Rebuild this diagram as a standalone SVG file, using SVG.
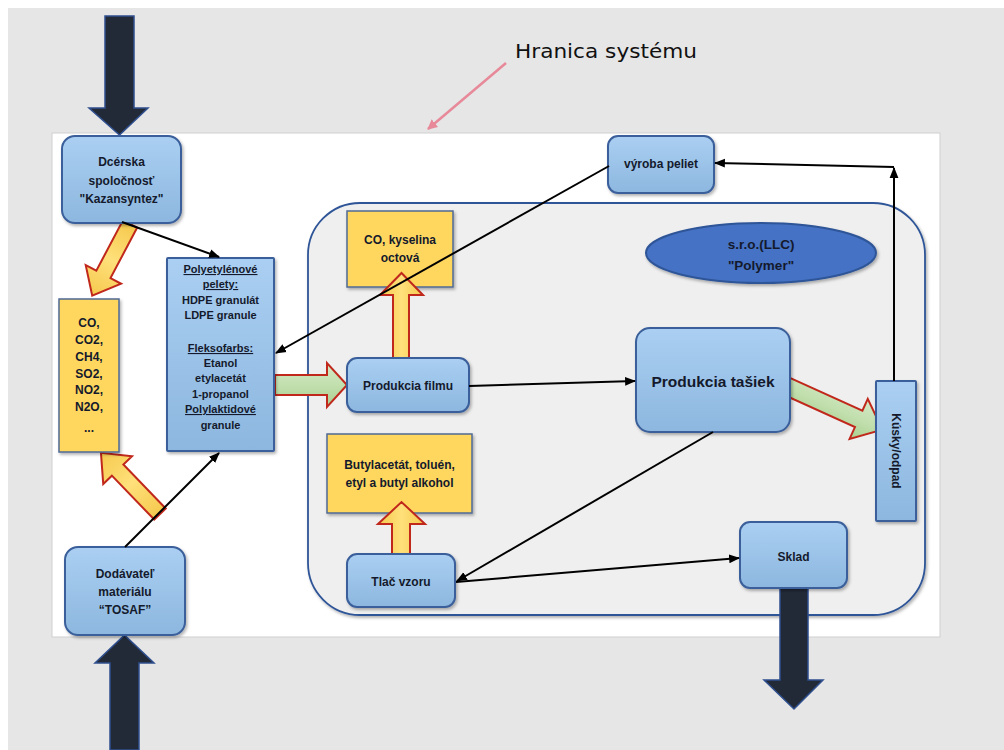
<svg xmlns="http://www.w3.org/2000/svg" width="1004" height="750" viewBox="0 0 1004 750">
<defs>
<linearGradient id="gBlue" x1="0" y1="0" x2="0" y2="1">
<stop offset="0" stop-color="#aacff2"/><stop offset="1" stop-color="#8db7df"/>
</linearGradient>
<linearGradient id="gYel" x1="0" y1="0" x2="1" y2="0">
<stop offset="0" stop-color="#f5c94e"/><stop offset="0.5" stop-color="#ffe07a"/><stop offset="1" stop-color="#f5c94e"/>
</linearGradient>
<linearGradient id="gGreen" x1="0" y1="0" x2="0" y2="1">
<stop offset="0" stop-color="#d4e9c6"/><stop offset="0.5" stop-color="#c2dfae"/><stop offset="1" stop-color="#a9d08f"/>
</linearGradient>
<filter id="sh" x="-10%" y="-10%" width="130%" height="130%">
<feDropShadow dx="1.5" dy="2" stdDeviation="1.5" flood-color="#000" flood-opacity="0.3"/>
</filter>
<marker id="ah" viewBox="0 0 10 10" refX="9" refY="5" markerWidth="5.5" markerHeight="5.5" orient="auto-start-reverse" markerUnits="strokeWidth">
<path d="M0,1 L10,5 L0,9 Z" fill="#000"/>
</marker>
<marker id="ahp" viewBox="0 0 10 10" refX="9" refY="5" markerWidth="4" markerHeight="4" orient="auto" markerUnits="strokeWidth">
<path d="M0,0 L10,5 L0,10 Z" fill="#e8899a"/>
</marker>
</defs>
<style>
.bg{fill:#e6e6e6}
.blue{fill:url(#gBlue);stroke:#3a5f9a;stroke-width:2;filter:url(#sh)}
.yel{fill:#ffd75e;stroke:#4f6a95;stroke-width:1.5;filter:url(#sh)}
.t{font-family:"Liberation Sans",Arial,sans-serif;font-weight:bold;fill:#141a2c;text-anchor:middle}
.s12{font-size:12px}
.s11{font-size:11px}
.ln{stroke:#000;stroke-width:2;fill:none;marker-end:url(#ah)}
.ya{fill:url(#gYel);stroke:#c0281c;stroke-width:2}
.ga{fill:url(#gGreen);stroke:#c0281c;stroke-width:2}
.dark{fill:#222a38;stroke:#2f4f8f;stroke-width:1.5}
</style>

<rect x="0" y="0" width="1004" height="750" fill="#ffffff"/>
<rect class="bg" x="8" y="8" width="996" height="742"/>
<rect x="52" y="133" width="888" height="504" fill="#ffffff" stroke="#cfcfcf" stroke-width="1"/>

<g id="hranica">
<text x="515" y="58" font-family="DejaVu Sans,Verdana,sans-serif" font-size="20" fill="#111" textLength="182" lengthAdjust="spacingAndGlyphs">Hranica systému</text>
<line x1="506" y1="63" x2="428" y2="129" stroke="#e8899a" stroke-width="2.5" marker-end="url(#ahp)"/>
</g>

<g id="container">
<rect x="308" y="203" width="617" height="412" rx="52" ry="52" fill="#efefef" stroke="#2f5597" stroke-width="1.8" filter="url(#sh)"/>
</g>

<g id="dark-arrows">
<path class="dark" d="M105,16 L134,16 L134,108 L148,108 L119.5,135 L89,108 L105,108 Z"/>
<path class="dark" d="M110,750 L110,663 L95,663 L124.5,635 L154,663 L139,663 L139,750 Z"/>
<path class="dark" d="M780,588 L808,588 L808,680 L823,680 L794,709 L764,680 L780,680 Z"/>
</g>

<g id="block-arrows">
<path class="ya" transform="translate(130,224) rotate(117.8)" d="M0,-8 L57,-8 L57,-20 L81,0 L57,20 L57,8 L0,8 Z"/>
<path class="ya" transform="translate(160,514) rotate(-134)" d="M0,-8 L61,-8 L61,-20 L85,0 L61,20 L61,8 L0,8 Z"/>
<path class="ga" d="M275,375 L327,375 L327,363 L347,385 L327,407 L327,395 L275,395 Z"/>
<path class="ga" transform="translate(784,385) rotate(24.4)" d="M0,-9 L82,-9 L82,-22 L108,0 L82,22 L82,9 L0,9 Z"/>
</g>

<g id="dcerska">
<rect class="blue" x="62" y="136" width="119" height="87" rx="13"/>
<text class="t s12" x="121.5" y="166">Dcérska</text>
<text class="t s12" x="121.5" y="185">spoločnosť</text>
<text class="t s12" x="121.5" y="203">"Kazansyntez"</text>
</g>

<g id="emisie">
<rect class="yel" x="59" y="299" width="60" height="153"/>
<text class="t s12" x="89" y="327">CO,</text>
<text class="t s12" x="89" y="344">CO2,</text>
<text class="t s12" x="89" y="361">CH4,</text>
<text class="t s12" x="89" y="378">SO2,</text>
<text class="t s12" x="89" y="394">NO2,</text>
<text class="t s12" x="89" y="411">N2O,</text>
<text class="t s12" x="89" y="432">...</text>
</g>

<g id="polyetylen">
<rect class="blue" x="167" y="258" width="107" height="193" rx="1"/>
<text class="t s11" x="220.5" y="273" text-decoration="underline">Polyetylénové</text>
<text class="t s11" x="220.5" y="288" text-decoration="underline">pelety:</text>
<text class="t s11" x="220.5" y="304">HDPE granulát</text>
<text class="t s11" x="220.5" y="319">LDPE granule</text>
<text class="t s11" x="220.5" y="352" text-decoration="underline">Fleksofarbs:</text>
<text class="t s11" x="220.5" y="367">Etanol</text>
<text class="t s11" x="220.5" y="382">etylacetát</text>
<text class="t s11" x="220.5" y="398">1-propanol</text>
<text class="t s11" x="220.5" y="413" text-decoration="underline">Polylaktidové</text>
<text class="t s11" x="220.5" y="429">granule</text>
</g>

<g id="dodavatel">
<rect class="blue" x="65" y="547" width="120" height="88" rx="13"/>
<text class="t s12" x="125" y="578">Dodávateľ</text>
<text class="t s12" x="125" y="596">materiálu</text>
<text class="t s12" x="125" y="614">“TOSAF”</text>
</g>

<g id="co-octova">
<rect class="yel" x="347" y="211" width="106" height="76"/>
<text class="t s12" x="400" y="244">CO, kyselina</text>
<text class="t s12" x="400" y="262">octová</text>
</g>

<g id="butyl">
<rect class="yel" x="327" y="434" width="145" height="79"/>
<text class="t s12" x="399.5" y="469">Butylacetát, toluén,</text>
<text class="t s12" x="399.5" y="487">etyl a butyl alkohol</text>
</g>

<g id="up-arrows">
<path class="ya" d="M393,358 L393,295 L380,295 L401.5,273 L423,295 L409,295 L409,358 Z"/>
<path class="ya" d="M392,554 L392,524 L378,524 L401.5,502 L425,524 L410,524 L410,554 Z"/>
</g>

<g id="produkcia-filmu">
<rect class="blue" x="347" y="358" width="122" height="54" rx="10"/>
<text class="t s12" x="408" y="390">Produkcia filmu</text>
</g>

<g id="tlac">
<rect class="blue" x="347" y="554" width="108" height="53" rx="10"/>
<text class="t s12" x="401" y="586">Tlač vzoru</text>
</g>

<g id="vyroba-peliet">
<rect class="blue" x="608" y="136" width="106" height="57" rx="10"/>
<text class="t s12" x="661" y="168">výroba peliet</text>
</g>

<g id="polymer">
<ellipse cx="761" cy="253" rx="115" ry="30" fill="#4472c4" stroke="#2f5597" stroke-width="2" filter="url(#sh)"/>
<text class="t" font-size="13.5" x="761" y="249">s.r.o.(LLC)</text>
<text class="t" font-size="13.5" x="761" y="270">"Polymer"</text>
</g>

<g id="produkcia-tasiek">
<rect class="blue" x="636" y="328" width="154" height="104" rx="14"/>
<text class="t" font-size="15.5" x="713" y="387">Produkcia tašiek</text>
</g>

<g id="kusky">
<rect class="blue" x="876" y="381" width="40" height="140" rx="1"/>
<text class="t s12" x="0" y="0" transform="translate(892,451) rotate(90)">Kúsky/odpad</text>
</g>

<g id="sklad">
<rect class="blue" x="740" y="522" width="107" height="66" rx="10"/>
<text class="t s12" x="793.5" y="561">Sklad</text>
</g>

<g id="connectors">
<line class="ln" x1="122" y1="222" x2="219" y2="257"/>
<line class="ln" x1="125" y1="547" x2="219" y2="453"/>
<line class="ln" x1="609" y1="166" x2="276" y2="353"/>
<line class="ln" x1="469" y1="386" x2="635" y2="381"/>
<line class="ln" x1="713" y1="432" x2="457" y2="581"/>
<line class="ln" x1="456" y1="582" x2="739" y2="558"/>
<line class="ln" x1="894" y1="381" x2="894" y2="168"/>
<line class="ln" x1="894" y1="167" x2="715" y2="163"/>
</g>
</svg>
